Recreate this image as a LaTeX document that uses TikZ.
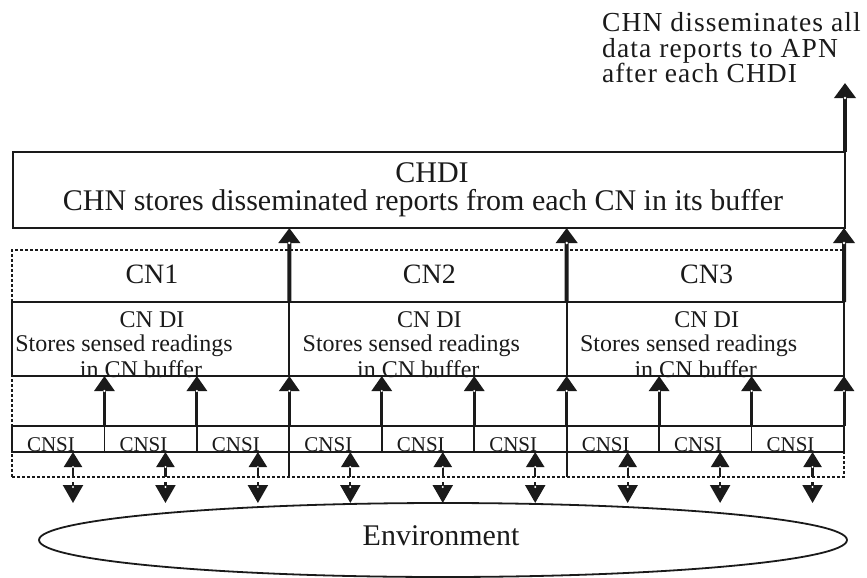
\documentclass[tikz,border=0pt]{standalone}
\usepackage{fontspec}
\setmainfont{Liberation Serif}
\newfontfamily\spacedserif[LetterSpace=4]{Liberation Serif}
\usetikzlibrary{arrows.meta,shapes.geometric}
\definecolor{ink}{HTML}{1A1A1A}
\newcommand\setfs[2]{\fontsize{#1}{#2}\selectfont}
\begin{document}
\begin{tikzpicture}[x=1pt,y=-1pt,
  box/.style={draw=ink, line width=1.8pt, inner sep=0pt, outer sep=0pt, anchor=north west},
  dashbox/.style={draw=ink, line width=1.2pt, dash pattern=on 3pt off 2pt, inner sep=0pt, outer sep=0pt, anchor=north west},
  edge/.style={draw=ink, line width=1.8pt},
  bigarrow/.style={draw=ink, line width=4pt, -{Triangle[width=21pt,length=15pt]}},
  midarrow/.style={draw=ink, line width=3pt, -{Triangle[width=20pt,length=15pt]}},
  senseup/.style={draw=ink, line width=2.2pt, -{Triangle[width=18pt,length=15pt]}},
  sensedown/.style={draw=ink, line width=2.2pt, -{Triangle[width=20pt,length=18pt]}},
  hole/.style={fill=white},
  bigtext/.style={font=\setfs{30}{30}, text=ink, inner sep=0pt, anchor=base},
  apntext/.style={font=\spacedserif\setfs{27.5}{25}, text=ink, inner sep=0pt, anchor=base west},
  cntext/.style={font=\setfs{28}{28}, text=ink, inner sep=0pt, anchor=base},
  ditext/.style={font=\setfs{24}{24}, text=ink, inner sep=0pt, anchor=base},
  sitext/.style={font=\setfs{21}{21}, text=ink, inner sep=0pt, anchor=base},
]
\useasboundingbox (0,0) rectangle (867,578);

% cluster head dissemination interval
\node[box, minimum width=832pt, minimum height=76pt] (chdi) at (13,152) {};
\node[bigtext] (chdititle) at (432,182) {CHDI};
\node[bigtext] (chdidesc) at (423,210) {CHN stores disseminated reports from each CN in its buffer};

% report to the APN
\node[apntext] (apn1) at (602,32) {CHN disseminates all};
\node[apntext] (apn2) at (602,57) {data reports to APN};
\node[apntext] (apn3) at (602,82) {after each CHDI};
\coordinate (apnin) at (845,83);
\draw[bigarrow] (chdi.north east) -- (apnin);
\fill[hole] (845,98) circle (1.4pt);

% dashed frame of the cluster nodes
\node[dashbox, minimum width=832pt, minimum height=227pt] (cnarea) at (12,250) {};

% environment
\node[draw=ink, line width=1.8pt, ellipse, minimum width=808pt, minimum height=74pt, inner sep=0pt] (env) at (443,540) {};
\node[bigtext] (envtext) at (441,545) {Environment};

\foreach \g in {1,2,3} {
  \pgfmathsetmacro\L{12+(\g-1)*277.333}
  \pgfmathsetmacro\R{\L+277.333}
  \pgfmathsetmacro\sh{\g==1 ? -10 : 0}
  % cluster node data interval
  \node[box, minimum width=277.333pt, minimum height=74pt] (cndi\g) at (\L,302) {};
  \node[cntext] (cn\g) at (\L+140,283) {CN\g};
  \node[ditext] (dia\g) at (\L+140,327) {CN DI};
  \node[ditext] (dib\g) at (\L+122+\sh,351) {Stores sensed readings};
  \node[ditext] (dic\g) at (\L+129,377) {in CN buffer};
  % CN report to the cluster head
  \coordinate (up\g) at (\R,228);
  \draw[bigarrow] (cndi\g.north east) -- (up\g);
  \fill[hole] (\R,243) circle (1.4pt);
  \foreach \k in {1,2,3} {
    \pgfmathsetmacro\X{\L+(\k-1)*92.444}
    \pgfmathsetmacro\S{\X+61}
    % sensing intervals
    \node[box, minimum width=92.444pt, minimum height=26pt] (cnsi\g\k) at (\X,426) {};
    \node[sitext] (cnsitext\g\k) at (\X+39,451) {CNSI};
    \coordinate (rd\g\k) at (\X+92.444,376);
    \draw[midarrow] (cnsi\g\k.north east) -- (rd\g\k);
    \fill[hole] (\X+92.444,391) circle (1.2pt);
    % readings taken from the environment
    \coordinate (sb\g\k) at (\S,477);
    \coordinate (st\g\k) at (\S,452);
    \draw[senseup] (sb\g\k) -- (st\g\k);
    \fill[hole] (\S,467) circle (1.1pt);
    \coordinate (eb\g\k) at (\S,482);
    \coordinate (et\g\k) at (\S,503);
    \draw[sensedown] (eb\g\k) -- (et\g\k);
    \fill[hole] (\S,487) circle (1.1pt);
  }
}
% solid separators between the cluster node groups
\draw[edge] (cnsi13.south east) -- ++(0,25);
\draw[edge] (cnsi23.south east) -- ++(0,25);
\end{tikzpicture}
\end{document}
